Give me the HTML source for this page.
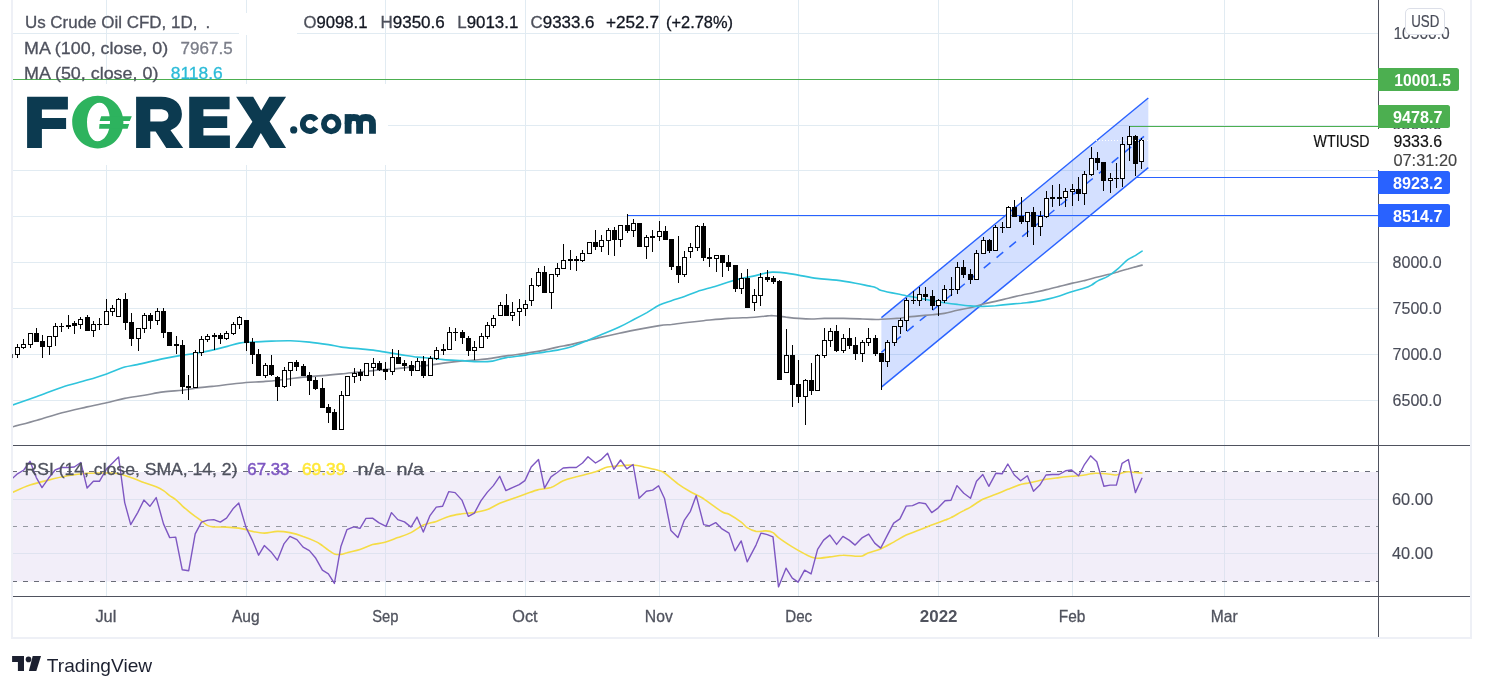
<!DOCTYPE html>
<html><head><meta charset="utf-8"><title>Us Crude Oil CFD</title>
<style>
html,body{margin:0;padding:0;background:#fff;}
body{width:1486px;height:691px;overflow:hidden;font-family:"Liberation Sans", sans-serif;}
svg{display:block;will-change:transform;opacity:0.9999;}
text{font-family:"Liberation Sans", sans-serif;}
</style></head><body>
<svg width="1486" height="691" viewBox="0 0 1486 691" font-family='"Liberation Sans", sans-serif'>
<defs>
<clipPath id="mainclip"><rect x="13" y="0" width="1365.5" height="445"/></clipPath>
<clipPath id="rsiclip"><rect x="13" y="446" width="1365.5" height="150"/></clipPath>
</defs>
<rect width="1486" height="691" fill="#fff"/>
<line x1="106.5" y1="0" x2="106.5" y2="596.5" stroke="#e1ebf2" stroke-width="1" />
<line x1="246.5" y1="0" x2="246.5" y2="596.5" stroke="#e1ebf2" stroke-width="1" />
<line x1="385.5" y1="0" x2="385.5" y2="596.5" stroke="#e1ebf2" stroke-width="1" />
<line x1="525.5" y1="0" x2="525.5" y2="596.5" stroke="#e1ebf2" stroke-width="1" />
<line x1="659.5" y1="0" x2="659.5" y2="596.5" stroke="#e1ebf2" stroke-width="1" />
<line x1="798.5" y1="0" x2="798.5" y2="596.5" stroke="#e1ebf2" stroke-width="1" />
<line x1="938.5" y1="0" x2="938.5" y2="596.5" stroke="#e1ebf2" stroke-width="1" />
<line x1="1072.5" y1="0" x2="1072.5" y2="596.5" stroke="#e1ebf2" stroke-width="1" />
<line x1="1224.5" y1="0" x2="1224.5" y2="596.5" stroke="#e1ebf2" stroke-width="1" />
<line x1="13" y1="33.5" x2="1378.5" y2="33.5" stroke="#e1ebf2" stroke-width="1" />
<line x1="13" y1="79.5" x2="1378.5" y2="79.5" stroke="#e1ebf2" stroke-width="1" />
<line x1="13" y1="125.5" x2="1378.5" y2="125.5" stroke="#e1ebf2" stroke-width="1" />
<line x1="13" y1="170.5" x2="1378.5" y2="170.5" stroke="#e1ebf2" stroke-width="1" />
<line x1="13" y1="216.5" x2="1378.5" y2="216.5" stroke="#e1ebf2" stroke-width="1" />
<line x1="13" y1="262.5" x2="1378.5" y2="262.5" stroke="#e1ebf2" stroke-width="1" />
<line x1="13" y1="308.5" x2="1378.5" y2="308.5" stroke="#e1ebf2" stroke-width="1" />
<line x1="13" y1="354.5" x2="1378.5" y2="354.5" stroke="#e1ebf2" stroke-width="1" />
<line x1="13" y1="400.5" x2="1378.5" y2="400.5" stroke="#e1ebf2" stroke-width="1" />
<rect x="13" y="84" width="375" height="81" fill="#fff" />
<rect x="239" y="13" width="58" height="22" fill="#fff" />
<polygon points="881.4,317.6 1148.3,98.0 1148.3,167.6 881.4,387.1" fill="#2962ff" fill-opacity="0.2"/>
<line x1="881.4" y1="317.6" x2="1148.3" y2="98.0" stroke="#2962ff" stroke-width="1.4" />
<line x1="881.4" y1="387.1" x2="1148.3" y2="167.6" stroke="#2962ff" stroke-width="1.4" />
<line x1="881.4" y1="352.35" x2="1148.3" y2="132.8" stroke="#2962ff" stroke-width="1.5" stroke-dasharray="8.6 7.97"/>
<line x1="13" y1="79.5" x2="1378.5" y2="79.5" stroke="#4caf50" stroke-width="1.2" />
<line x1="1129.5" y1="126.5" x2="1378.5" y2="126.5" stroke="#4caf50" stroke-width="1.2" />
<line x1="1136" y1="177.5" x2="1378.5" y2="177.5" stroke="#2962ff" stroke-width="1.2" />
<line x1="627.5" y1="215.5" x2="1378.5" y2="215.5" stroke="#2962ff" stroke-width="1.2" />
<g clip-path="url(#mainclip)">
<path d="M12.0,427.0 C16.2,425.8 28.7,422.6 37.0,420.2 C45.4,417.8 53.7,414.9 62.1,412.7 C70.4,410.5 79.7,408.6 87.1,406.9 C94.5,405.3 100.4,404.1 106.6,402.7 C112.9,401.3 118.4,399.7 124.7,398.4 C131.0,397.2 138.0,396.3 144.4,395.2 C150.9,394.1 157.1,392.7 163.5,391.9 C169.8,391.1 177.1,390.8 182.5,390.2 C187.8,389.5 190.5,388.8 195.5,388.2 C200.5,387.5 205.0,387.2 212.3,386.4 C219.6,385.6 230.5,384.0 239.3,383.2 C248.2,382.3 257.8,382.0 265.3,381.4 C272.9,380.8 278.1,380.1 284.4,379.4 C290.7,378.7 296.8,377.8 303.1,377.1 C309.5,376.5 316.0,376.2 322.4,375.6 C328.8,375.1 335.1,374.5 341.4,373.9 C347.8,373.3 355.2,372.4 360.5,371.9 C365.8,371.3 369.3,371.0 373.2,370.6 C377.2,370.3 379.7,370.0 384.0,369.6 C388.3,369.3 393.5,368.9 399.0,368.4 C404.6,367.8 412.1,366.9 417.3,366.4 C422.5,365.8 426.0,365.7 430.3,365.1 C434.7,364.6 438.0,363.8 443.3,363.1 C448.7,362.4 457.2,361.4 462.4,360.9 C467.5,360.4 470.2,360.5 474.4,360.1 C478.5,359.8 482.0,359.6 487.4,358.9 C492.7,358.2 500.1,356.8 506.4,355.9 C512.8,354.9 519.1,354.3 525.4,353.4 C531.8,352.4 539.1,351.2 544.5,350.1 C549.8,349.1 553.1,348.0 557.5,347.1 C561.8,346.2 566.0,345.6 570.5,344.6 C575.0,343.6 579.5,342.5 584.3,341.3 C589.1,340.2 593.4,338.9 599.3,337.6 C605.1,336.3 613.5,334.6 619.3,333.3 C625.2,332.1 627.7,331.4 634.3,330.1 C641.0,328.8 653.2,326.5 659.4,325.6 C665.6,324.6 667.3,324.9 671.5,324.5 C675.7,324.0 679.2,323.3 684.5,322.7 C689.8,322.1 696.2,321.4 703.5,320.7 C710.9,320.0 720.0,319.0 728.6,318.4 C737.1,317.9 748.1,317.6 754.6,317.2 C761.1,316.8 764.2,316.2 767.4,315.9 C770.5,315.7 770.4,315.5 773.6,315.7 C776.8,315.9 782.2,316.7 786.4,317.2 C790.5,317.7 794.2,318.2 798.4,318.4 C802.6,318.7 807.1,319.0 811.4,319.0 C815.8,319.0 819.1,318.5 824.4,318.4 C829.8,318.4 837.1,318.4 843.5,318.4 C849.8,318.5 857.1,318.8 862.5,319.0 C867.9,319.1 872.8,319.4 876.0,319.5 C879.2,319.5 877.3,319.5 881.4,319.3 C885.5,319.1 896.3,318.4 900.4,318.1 C904.6,317.7 903.1,317.5 906.3,317.2 C909.4,316.8 914.9,316.3 919.3,315.9 C923.6,315.5 928.1,315.1 932.3,314.7 C936.5,314.3 940.1,314.2 944.3,313.4 C948.5,312.7 953.0,311.1 957.3,310.2 C961.7,309.2 966.0,308.7 970.3,307.7 C974.7,306.6 979.2,305.0 983.4,303.9 C987.5,302.9 991.2,302.4 995.4,301.4 C999.6,300.5 1004.1,299.2 1008.4,298.2 C1012.7,297.1 1017.2,296.1 1021.4,295.2 C1025.6,294.2 1029.3,293.6 1033.4,292.7 C1037.6,291.7 1042.1,290.7 1046.4,289.6 C1050.8,288.6 1055.1,287.5 1059.5,286.4 C1063.8,285.3 1068.3,284.1 1072.5,283.1 C1076.7,282.2 1080.3,281.7 1084.5,280.6 C1088.7,279.6 1093.9,277.9 1097.8,276.9 C1101.6,275.9 1104.4,275.5 1107.8,274.6 C1111.1,273.8 1114.5,272.8 1117.8,271.9 C1121.1,270.9 1124.9,269.7 1127.8,268.9 C1130.7,268.0 1132.9,267.5 1135.3,266.9 C1137.7,266.2 1140.9,265.4 1142.1,265.1" fill="none" stroke="#8a8d98" stroke-width="1.6" stroke-linejoin="round" stroke-linecap="round" />
<path d="M12.0,405.2 C16.2,403.7 28.7,399.4 37.0,396.4 C45.4,393.4 53.7,389.9 62.1,387.2 C70.4,384.4 79.7,382.4 87.1,380.1 C94.5,377.9 100.4,376.1 106.6,373.9 C112.9,371.7 119.6,368.7 124.7,367.1 C129.7,365.6 130.9,366.0 137.2,364.6 C143.4,363.3 154.7,360.5 162.2,358.9 C169.8,357.3 176.9,356.0 182.5,355.1 C188.0,354.2 190.5,354.2 195.5,353.4 C200.5,352.5 207.0,351.3 212.3,350.1 C217.6,348.9 222.8,347.5 227.3,346.4 C231.8,345.2 235.1,343.8 239.3,343.1 C243.5,342.4 247.0,342.4 252.3,342.1 C257.7,341.8 265.0,341.3 271.3,341.1 C277.7,340.9 284.0,340.7 290.4,340.8 C296.7,341.0 303.1,341.5 309.4,342.1 C315.7,342.7 323.1,343.8 328.4,344.6 C333.8,345.4 336.1,346.4 341.4,347.1 C346.8,347.8 355.2,348.4 360.5,348.9 C365.8,349.4 369.3,349.6 373.2,350.1 C377.2,350.6 379.7,351.2 384.0,351.9 C388.3,352.6 393.5,353.5 399.0,354.4 C404.6,355.2 412.1,356.5 417.3,357.1 C422.5,357.7 426.0,357.7 430.3,358.1 C434.7,358.5 438.0,359.2 443.3,359.6 C448.7,360.0 457.2,360.3 462.4,360.6 C467.5,361.0 470.2,361.5 474.4,361.6 C478.5,361.8 484.2,361.7 487.4,361.6 C490.6,361.5 490.2,361.5 493.4,360.9 C496.6,360.2 501.1,358.6 506.4,357.6 C511.8,356.7 519.1,356.0 525.4,355.1 C531.8,354.2 539.1,352.9 544.5,352.1 C549.8,351.3 553.1,350.9 557.5,350.1 C561.8,349.3 566.0,348.5 570.5,347.1 C575.0,345.7 579.5,343.8 584.3,341.8 C589.1,339.9 593.4,338.0 599.3,335.6 C605.1,333.1 613.5,329.8 619.3,327.1 C625.2,324.4 629.7,321.7 634.3,319.3 C638.9,316.9 642.7,314.9 646.9,312.6 C651.0,310.2 655.3,307.0 659.4,305.0 C663.5,303.1 667.3,302.1 671.5,300.7 C675.7,299.2 680.2,298.0 684.5,296.4 C688.8,294.9 692.2,293.2 697.5,291.4 C702.9,289.7 711.4,287.5 716.5,285.9 C721.7,284.3 724.4,283.2 728.6,281.9 C732.7,280.6 737.2,279.4 741.6,278.4 C745.9,277.4 750.3,276.9 754.6,275.9 C758.9,274.9 764.2,273.3 767.4,272.6 C770.5,272.0 770.4,272.1 773.6,272.1 C776.8,272.2 782.2,272.6 786.4,273.1 C790.5,273.6 793.3,274.3 798.4,275.1 C803.5,276.0 810.6,277.6 816.9,278.4 C823.3,279.2 830.0,279.4 836.4,280.1 C842.9,280.9 850.1,282.2 855.5,283.2 C860.8,284.1 865.1,285.2 868.5,285.9 C871.9,286.7 873.8,286.9 876.0,287.7 C878.2,288.4 877.3,289.4 881.4,290.5 C885.5,291.7 896.3,293.7 900.4,294.5 C904.6,295.4 904.1,295.2 906.3,295.7 C908.4,296.1 911.3,296.6 913.5,297.0 C915.6,297.5 916.1,297.6 919.3,298.2 C922.4,298.8 928.1,299.9 932.3,300.7 C936.5,301.4 940.1,302.0 944.3,302.7 C948.5,303.3 953.0,303.9 957.3,304.4 C961.7,305.0 966.0,305.6 970.3,305.9 C974.7,306.3 979.2,306.5 983.4,306.4 C987.5,306.4 991.2,306.0 995.4,305.7 C999.6,305.3 1004.1,304.8 1008.4,304.4 C1012.7,304.0 1017.2,303.6 1021.4,303.2 C1025.6,302.7 1029.3,302.5 1033.4,301.9 C1037.6,301.3 1042.1,300.4 1046.4,299.4 C1050.8,298.4 1055.1,297.2 1059.5,295.9 C1063.8,294.6 1068.3,292.7 1072.5,291.4 C1076.7,290.1 1081.3,289.2 1084.5,288.1 C1087.7,287.1 1089.3,286.4 1091.5,285.1 C1093.7,283.9 1095.1,282.3 1097.8,280.9 C1100.5,279.4 1104.4,278.4 1107.8,276.4 C1111.1,274.4 1114.5,271.7 1117.8,268.9 C1121.1,266.1 1124.9,261.8 1127.8,259.6 C1130.7,257.4 1132.9,257.0 1135.3,255.6 C1137.7,254.2 1140.9,251.8 1142.1,251.1" fill="none" stroke="#2fc4dc" stroke-width="1.6" stroke-linejoin="round" stroke-linecap="round" />
<line x1="10.5" y1="350" x2="10.5" y2="358" stroke="#000" stroke-width="1" />
<rect x="8.0" y="353" width="5" height="5" fill="#000" />
<line x1="17.5" y1="344" x2="17.5" y2="358" stroke="#000" stroke-width="1" />
<rect x="15.5" y="347.5" width="4" height="7" fill="#fff" stroke="#000" stroke-width="1"/>
<line x1="23.5" y1="339" x2="23.5" y2="349" stroke="#000" stroke-width="1" />
<rect x="21.5" y="344.5" width="4" height="3" fill="#fff" stroke="#000" stroke-width="1"/>
<line x1="30.5" y1="333" x2="30.5" y2="348" stroke="#000" stroke-width="1" />
<rect x="28.5" y="333.5" width="4" height="11" fill="#fff" stroke="#000" stroke-width="1"/>
<line x1="36.5" y1="328" x2="36.5" y2="342" stroke="#000" stroke-width="1" />
<rect x="34.0" y="333" width="5" height="9" fill="#000" />
<line x1="42.5" y1="335" x2="42.5" y2="358" stroke="#000" stroke-width="1" />
<rect x="40.0" y="341" width="5" height="6" fill="#000" />
<line x1="49.5" y1="336" x2="49.5" y2="355" stroke="#000" stroke-width="1" />
<rect x="47.5" y="336.5" width="4" height="10" fill="#fff" stroke="#000" stroke-width="1"/>
<line x1="55.5" y1="323" x2="55.5" y2="346" stroke="#000" stroke-width="1" />
<rect x="53.5" y="326.5" width="4" height="10" fill="#fff" stroke="#000" stroke-width="1"/>
<line x1="61.5" y1="323" x2="61.5" y2="332" stroke="#000" stroke-width="1" />
<rect x="59.0" y="326" width="5" height="1" fill="#000" />
<line x1="68.5" y1="315" x2="68.5" y2="329" stroke="#000" stroke-width="1" />
<rect x="66.0" y="325" width="5" height="2" fill="#000" />
<line x1="74.5" y1="321" x2="74.5" y2="334" stroke="#000" stroke-width="1" />
<rect x="72.0" y="323" width="5" height="3" fill="#000" />
<line x1="80.5" y1="317" x2="80.5" y2="329" stroke="#000" stroke-width="1" />
<rect x="78.5" y="319.5" width="4" height="5" fill="#fff" stroke="#000" stroke-width="1"/>
<line x1="87.5" y1="315" x2="87.5" y2="331" stroke="#000" stroke-width="1" />
<rect x="85.0" y="317" width="5" height="14" fill="#000" />
<line x1="93.5" y1="321" x2="93.5" y2="337" stroke="#000" stroke-width="1" />
<rect x="91.5" y="324.5" width="4" height="6" fill="#fff" stroke="#000" stroke-width="1"/>
<line x1="99.5" y1="318" x2="99.5" y2="330" stroke="#000" stroke-width="1" />
<rect x="97.0" y="324" width="5" height="1" fill="#000" />
<line x1="106.5" y1="299" x2="106.5" y2="325" stroke="#000" stroke-width="1" />
<rect x="104.5" y="311.5" width="4" height="13" fill="#fff" stroke="#000" stroke-width="1"/>
<line x1="112.5" y1="305" x2="112.5" y2="316" stroke="#000" stroke-width="1" />
<rect x="110.5" y="308.5" width="4" height="3" fill="#fff" stroke="#000" stroke-width="1"/>
<line x1="118.5" y1="298" x2="118.5" y2="317" stroke="#000" stroke-width="1" />
<rect x="116.5" y="299.5" width="4" height="17" fill="#fff" stroke="#000" stroke-width="1"/>
<line x1="125.5" y1="293" x2="125.5" y2="330" stroke="#000" stroke-width="1" />
<rect x="123.0" y="299" width="5" height="24" fill="#000" />
<line x1="131.5" y1="313" x2="131.5" y2="346" stroke="#000" stroke-width="1" />
<rect x="129.0" y="322" width="5" height="17" fill="#000" />
<line x1="138.5" y1="328" x2="138.5" y2="351" stroke="#000" stroke-width="1" />
<rect x="136.5" y="328.5" width="4" height="10" fill="#fff" stroke="#000" stroke-width="1"/>
<line x1="144.5" y1="313" x2="144.5" y2="333" stroke="#000" stroke-width="1" />
<rect x="142.5" y="315.5" width="4" height="13" fill="#fff" stroke="#000" stroke-width="1"/>
<line x1="150.5" y1="313" x2="150.5" y2="329" stroke="#000" stroke-width="1" />
<rect x="148.0" y="315" width="5" height="6" fill="#000" />
<line x1="157.5" y1="308" x2="157.5" y2="325" stroke="#000" stroke-width="1" />
<rect x="155.5" y="311.5" width="4" height="9" fill="#fff" stroke="#000" stroke-width="1"/>
<line x1="163.5" y1="308" x2="163.5" y2="338" stroke="#000" stroke-width="1" />
<rect x="161.0" y="311" width="5" height="22" fill="#000" />
<line x1="169.5" y1="332" x2="169.5" y2="346" stroke="#000" stroke-width="1" />
<rect x="167.0" y="332" width="5" height="14" fill="#000" />
<line x1="176.5" y1="336" x2="176.5" y2="354" stroke="#000" stroke-width="1" />
<rect x="174.0" y="344" width="5" height="2" fill="#000" />
<line x1="182.5" y1="340" x2="182.5" y2="394" stroke="#000" stroke-width="1" />
<rect x="180.0" y="345" width="5" height="42" fill="#000" />
<line x1="188.5" y1="375" x2="188.5" y2="400" stroke="#000" stroke-width="1" />
<rect x="186.0" y="386" width="5" height="2" fill="#000" />
<line x1="195.5" y1="350" x2="195.5" y2="388" stroke="#000" stroke-width="1" />
<rect x="193.5" y="352.5" width="4" height="35" fill="#fff" stroke="#000" stroke-width="1"/>
<line x1="201.5" y1="336" x2="201.5" y2="356" stroke="#000" stroke-width="1" />
<rect x="199.5" y="339.5" width="4" height="13" fill="#fff" stroke="#000" stroke-width="1"/>
<line x1="207.5" y1="334" x2="207.5" y2="342" stroke="#000" stroke-width="1" />
<rect x="205.5" y="336.5" width="4" height="3" fill="#fff" stroke="#000" stroke-width="1"/>
<line x1="214.5" y1="333" x2="214.5" y2="350" stroke="#000" stroke-width="1" />
<rect x="212.0" y="335" width="5" height="2" fill="#000" />
<line x1="220.5" y1="333" x2="220.5" y2="344" stroke="#000" stroke-width="1" />
<rect x="218.0" y="335" width="5" height="4" fill="#000" />
<line x1="226.5" y1="331" x2="226.5" y2="340" stroke="#000" stroke-width="1" />
<rect x="224.5" y="333.5" width="4" height="5" fill="#fff" stroke="#000" stroke-width="1"/>
<line x1="233.5" y1="322" x2="233.5" y2="335" stroke="#000" stroke-width="1" />
<rect x="231.5" y="324.5" width="4" height="9" fill="#fff" stroke="#000" stroke-width="1"/>
<line x1="239.5" y1="316" x2="239.5" y2="329" stroke="#000" stroke-width="1" />
<rect x="237.5" y="317.5" width="4" height="7" fill="#fff" stroke="#000" stroke-width="1"/>
<line x1="246.5" y1="320" x2="246.5" y2="351" stroke="#000" stroke-width="1" />
<rect x="244.0" y="320" width="5" height="23" fill="#000" />
<line x1="252.5" y1="338" x2="252.5" y2="364" stroke="#000" stroke-width="1" />
<rect x="250.0" y="342" width="5" height="13" fill="#000" />
<line x1="258.5" y1="349" x2="258.5" y2="376" stroke="#000" stroke-width="1" />
<rect x="256.0" y="354" width="5" height="22" fill="#000" />
<line x1="265.5" y1="363" x2="265.5" y2="378" stroke="#000" stroke-width="1" />
<rect x="263.5" y="365.5" width="4" height="10" fill="#fff" stroke="#000" stroke-width="1"/>
<line x1="271.5" y1="355" x2="271.5" y2="376" stroke="#000" stroke-width="1" />
<rect x="269.0" y="365" width="5" height="10" fill="#000" />
<line x1="277.5" y1="376" x2="277.5" y2="401" stroke="#000" stroke-width="1" />
<rect x="275.0" y="377" width="5" height="10" fill="#000" />
<line x1="284.5" y1="367" x2="284.5" y2="388" stroke="#000" stroke-width="1" />
<rect x="282.5" y="370.5" width="4" height="16" fill="#fff" stroke="#000" stroke-width="1"/>
<line x1="290.5" y1="362" x2="290.5" y2="386" stroke="#000" stroke-width="1" />
<rect x="288.5" y="362.5" width="4" height="8" fill="#fff" stroke="#000" stroke-width="1"/>
<line x1="296.5" y1="360" x2="296.5" y2="371" stroke="#000" stroke-width="1" />
<rect x="294.0" y="362" width="5" height="5" fill="#000" />
<line x1="303.5" y1="364" x2="303.5" y2="376" stroke="#000" stroke-width="1" />
<rect x="301.0" y="366" width="5" height="10" fill="#000" />
<line x1="309.5" y1="372" x2="309.5" y2="395" stroke="#000" stroke-width="1" />
<rect x="307.0" y="375" width="5" height="6" fill="#000" />
<line x1="315.5" y1="377" x2="315.5" y2="390" stroke="#000" stroke-width="1" />
<rect x="313.0" y="380" width="5" height="9" fill="#000" />
<line x1="322.5" y1="378" x2="322.5" y2="408" stroke="#000" stroke-width="1" />
<rect x="320.0" y="388" width="5" height="20" fill="#000" />
<line x1="328.5" y1="404" x2="328.5" y2="423" stroke="#000" stroke-width="1" />
<rect x="326.0" y="407" width="5" height="6" fill="#000" />
<line x1="334.5" y1="409" x2="334.5" y2="430" stroke="#000" stroke-width="1" />
<rect x="332.0" y="412" width="5" height="18" fill="#000" />
<line x1="341.5" y1="391" x2="341.5" y2="430" stroke="#000" stroke-width="1" />
<rect x="339.5" y="395.5" width="4" height="34" fill="#fff" stroke="#000" stroke-width="1"/>
<line x1="347.5" y1="376" x2="347.5" y2="396" stroke="#000" stroke-width="1" />
<rect x="345.5" y="376.5" width="4" height="19" fill="#fff" stroke="#000" stroke-width="1"/>
<line x1="354.5" y1="368" x2="354.5" y2="383" stroke="#000" stroke-width="1" />
<rect x="352.5" y="373.5" width="4" height="3" fill="#fff" stroke="#000" stroke-width="1"/>
<line x1="360.5" y1="369" x2="360.5" y2="381" stroke="#000" stroke-width="1" />
<rect x="358.0" y="372" width="5" height="4" fill="#000" />
<line x1="366.5" y1="363" x2="366.5" y2="376" stroke="#000" stroke-width="1" />
<rect x="364.5" y="363.5" width="4" height="12" fill="#fff" stroke="#000" stroke-width="1"/>
<line x1="373.5" y1="358" x2="373.5" y2="376" stroke="#000" stroke-width="1" />
<rect x="371.5" y="363.5" width="4" height="4" fill="#fff" stroke="#000" stroke-width="1"/>
<line x1="379.5" y1="361" x2="379.5" y2="371" stroke="#000" stroke-width="1" />
<rect x="377.0" y="363" width="5" height="7" fill="#000" />
<line x1="385.5" y1="362" x2="385.5" y2="380" stroke="#000" stroke-width="1" />
<rect x="383.0" y="369" width="5" height="3" fill="#000" />
<line x1="392.5" y1="349" x2="392.5" y2="375" stroke="#000" stroke-width="1" />
<rect x="390.5" y="357.5" width="4" height="14" fill="#fff" stroke="#000" stroke-width="1"/>
<line x1="398.5" y1="350" x2="398.5" y2="364" stroke="#000" stroke-width="1" />
<rect x="396.0" y="357" width="5" height="7" fill="#000" />
<line x1="404.5" y1="360" x2="404.5" y2="371" stroke="#000" stroke-width="1" />
<rect x="402.0" y="363" width="5" height="3" fill="#000" />
<line x1="411.5" y1="361" x2="411.5" y2="376" stroke="#000" stroke-width="1" />
<rect x="409.0" y="365" width="5" height="6" fill="#000" />
<line x1="417.5" y1="358" x2="417.5" y2="371" stroke="#000" stroke-width="1" />
<rect x="415.5" y="361.5" width="4" height="9" fill="#fff" stroke="#000" stroke-width="1"/>
<line x1="423.5" y1="356" x2="423.5" y2="378" stroke="#000" stroke-width="1" />
<rect x="421.0" y="361" width="5" height="15" fill="#000" />
<line x1="430.5" y1="356" x2="430.5" y2="376" stroke="#000" stroke-width="1" />
<rect x="428.5" y="358.5" width="4" height="17" fill="#fff" stroke="#000" stroke-width="1"/>
<line x1="436.5" y1="347" x2="436.5" y2="360" stroke="#000" stroke-width="1" />
<rect x="434.5" y="350.5" width="4" height="8" fill="#fff" stroke="#000" stroke-width="1"/>
<line x1="443.5" y1="344" x2="443.5" y2="355" stroke="#000" stroke-width="1" />
<rect x="441.0" y="349" width="5" height="2" fill="#000" />
<line x1="449.5" y1="327" x2="449.5" y2="350" stroke="#000" stroke-width="1" />
<rect x="447.5" y="332.5" width="4" height="17" fill="#fff" stroke="#000" stroke-width="1"/>
<line x1="455.5" y1="328" x2="455.5" y2="341" stroke="#000" stroke-width="1" />
<rect x="453.0" y="332" width="5" height="1" fill="#000" />
<line x1="462.5" y1="330" x2="462.5" y2="344" stroke="#000" stroke-width="1" />
<rect x="460.0" y="332" width="5" height="6" fill="#000" />
<line x1="468.5" y1="336" x2="468.5" y2="356" stroke="#000" stroke-width="1" />
<rect x="466.0" y="338" width="5" height="13" fill="#000" />
<line x1="474.5" y1="341" x2="474.5" y2="360" stroke="#000" stroke-width="1" />
<rect x="472.5" y="347.5" width="4" height="3" fill="#fff" stroke="#000" stroke-width="1"/>
<line x1="481.5" y1="333" x2="481.5" y2="348" stroke="#000" stroke-width="1" />
<rect x="479.5" y="336.5" width="4" height="11" fill="#fff" stroke="#000" stroke-width="1"/>
<line x1="487.5" y1="322" x2="487.5" y2="339" stroke="#000" stroke-width="1" />
<rect x="485.5" y="325.5" width="4" height="11" fill="#fff" stroke="#000" stroke-width="1"/>
<line x1="493.5" y1="315" x2="493.5" y2="328" stroke="#000" stroke-width="1" />
<rect x="491.5" y="318.5" width="4" height="7" fill="#fff" stroke="#000" stroke-width="1"/>
<line x1="500.5" y1="302" x2="500.5" y2="316" stroke="#000" stroke-width="1" />
<rect x="498.5" y="305.5" width="4" height="10" fill="#fff" stroke="#000" stroke-width="1"/>
<line x1="506.5" y1="294" x2="506.5" y2="316" stroke="#000" stroke-width="1" />
<rect x="504.0" y="305" width="5" height="11" fill="#000" />
<line x1="512.5" y1="302" x2="512.5" y2="321" stroke="#000" stroke-width="1" />
<rect x="510.5" y="312.5" width="4" height="3" fill="#fff" stroke="#000" stroke-width="1"/>
<line x1="519.5" y1="299" x2="519.5" y2="326" stroke="#000" stroke-width="1" />
<rect x="517.5" y="308.5" width="4" height="3" fill="#fff" stroke="#000" stroke-width="1"/>
<line x1="525.5" y1="300" x2="525.5" y2="316" stroke="#000" stroke-width="1" />
<rect x="523.5" y="304.5" width="4" height="4" fill="#fff" stroke="#000" stroke-width="1"/>
<line x1="531.5" y1="278" x2="531.5" y2="306" stroke="#000" stroke-width="1" />
<rect x="529.5" y="285.5" width="4" height="15" fill="#fff" stroke="#000" stroke-width="1"/>
<line x1="538.5" y1="268" x2="538.5" y2="287" stroke="#000" stroke-width="1" />
<rect x="536.5" y="272.5" width="4" height="13" fill="#fff" stroke="#000" stroke-width="1"/>
<line x1="544.5" y1="266" x2="544.5" y2="293" stroke="#000" stroke-width="1" />
<rect x="542.0" y="272" width="5" height="21" fill="#000" />
<line x1="551.5" y1="274" x2="551.5" y2="309" stroke="#000" stroke-width="1" />
<rect x="549.5" y="274.5" width="4" height="18" fill="#fff" stroke="#000" stroke-width="1"/>
<line x1="557.5" y1="263" x2="557.5" y2="277" stroke="#000" stroke-width="1" />
<rect x="555.5" y="268.5" width="4" height="6" fill="#fff" stroke="#000" stroke-width="1"/>
<line x1="563.5" y1="244" x2="563.5" y2="269" stroke="#000" stroke-width="1" />
<rect x="561.5" y="260.5" width="4" height="8" fill="#fff" stroke="#000" stroke-width="1"/>
<line x1="570.5" y1="250" x2="570.5" y2="270" stroke="#000" stroke-width="1" />
<rect x="568.0" y="259" width="5" height="2" fill="#000" />
<line x1="576.5" y1="256" x2="576.5" y2="271" stroke="#000" stroke-width="1" />
<rect x="574.0" y="259" width="5" height="2" fill="#000" />
<line x1="582.5" y1="250" x2="582.5" y2="262" stroke="#000" stroke-width="1" />
<rect x="580.5" y="253.5" width="4" height="7" fill="#fff" stroke="#000" stroke-width="1"/>
<line x1="589.5" y1="242" x2="589.5" y2="254" stroke="#000" stroke-width="1" />
<rect x="587.5" y="242.5" width="4" height="11" fill="#fff" stroke="#000" stroke-width="1"/>
<line x1="595.5" y1="230" x2="595.5" y2="250" stroke="#000" stroke-width="1" />
<rect x="593.0" y="242" width="5" height="5" fill="#000" />
<line x1="601.5" y1="235" x2="601.5" y2="252" stroke="#000" stroke-width="1" />
<rect x="599.5" y="240.5" width="4" height="6" fill="#fff" stroke="#000" stroke-width="1"/>
<line x1="608.5" y1="228" x2="608.5" y2="255" stroke="#000" stroke-width="1" />
<rect x="606.5" y="230.5" width="4" height="10" fill="#fff" stroke="#000" stroke-width="1"/>
<line x1="614.5" y1="227" x2="614.5" y2="256" stroke="#000" stroke-width="1" />
<rect x="612.0" y="230" width="5" height="10" fill="#000" />
<line x1="620.5" y1="225" x2="620.5" y2="247" stroke="#000" stroke-width="1" />
<rect x="618.5" y="225.5" width="4" height="14" fill="#fff" stroke="#000" stroke-width="1"/>
<line x1="627.5" y1="214" x2="627.5" y2="233" stroke="#000" stroke-width="1" />
<rect x="625.0" y="225" width="5" height="6" fill="#000" />
<line x1="633.5" y1="219" x2="633.5" y2="237" stroke="#000" stroke-width="1" />
<rect x="631.5" y="223.5" width="4" height="7" fill="#fff" stroke="#000" stroke-width="1"/>
<line x1="639.5" y1="223" x2="639.5" y2="247" stroke="#000" stroke-width="1" />
<rect x="637.0" y="223" width="5" height="24" fill="#000" />
<line x1="646.5" y1="235" x2="646.5" y2="259" stroke="#000" stroke-width="1" />
<rect x="644.5" y="237.5" width="4" height="9" fill="#fff" stroke="#000" stroke-width="1"/>
<line x1="652.5" y1="230" x2="652.5" y2="252" stroke="#000" stroke-width="1" />
<rect x="650.0" y="236" width="5" height="2" fill="#000" />
<line x1="659.5" y1="221" x2="659.5" y2="241" stroke="#000" stroke-width="1" />
<rect x="657.5" y="231.5" width="4" height="5" fill="#fff" stroke="#000" stroke-width="1"/>
<line x1="665.5" y1="226" x2="665.5" y2="240" stroke="#000" stroke-width="1" />
<rect x="663.0" y="231" width="5" height="9" fill="#000" />
<line x1="671.5" y1="239" x2="671.5" y2="270" stroke="#000" stroke-width="1" />
<rect x="669.0" y="239" width="5" height="28" fill="#000" />
<line x1="678.5" y1="236" x2="678.5" y2="283" stroke="#000" stroke-width="1" />
<rect x="676.0" y="266" width="5" height="9" fill="#000" />
<line x1="684.5" y1="251" x2="684.5" y2="277" stroke="#000" stroke-width="1" />
<rect x="682.5" y="257.5" width="4" height="17" fill="#fff" stroke="#000" stroke-width="1"/>
<line x1="690.5" y1="243" x2="690.5" y2="258" stroke="#000" stroke-width="1" />
<rect x="688.5" y="247.5" width="4" height="4" fill="#fff" stroke="#000" stroke-width="1"/>
<line x1="697.5" y1="225" x2="697.5" y2="251" stroke="#000" stroke-width="1" />
<rect x="695.5" y="226.5" width="4" height="21" fill="#fff" stroke="#000" stroke-width="1"/>
<line x1="703.5" y1="223" x2="703.5" y2="261" stroke="#000" stroke-width="1" />
<rect x="701.0" y="226" width="5" height="32" fill="#000" />
<line x1="709.5" y1="248" x2="709.5" y2="267" stroke="#000" stroke-width="1" />
<rect x="707.0" y="257" width="5" height="2" fill="#000" />
<line x1="716.5" y1="255" x2="716.5" y2="272" stroke="#000" stroke-width="1" />
<rect x="714.5" y="255.5" width="4" height="3" fill="#fff" stroke="#000" stroke-width="1"/>
<line x1="722.5" y1="255" x2="722.5" y2="277" stroke="#000" stroke-width="1" />
<rect x="720.0" y="255" width="5" height="8" fill="#000" />
<line x1="728.5" y1="255" x2="728.5" y2="271" stroke="#000" stroke-width="1" />
<rect x="726.0" y="262" width="5" height="5" fill="#000" />
<line x1="735.5" y1="265" x2="735.5" y2="292" stroke="#000" stroke-width="1" />
<rect x="733.0" y="265" width="5" height="24" fill="#000" />
<line x1="741.5" y1="273" x2="741.5" y2="294" stroke="#000" stroke-width="1" />
<rect x="739.5" y="278.5" width="4" height="10" fill="#fff" stroke="#000" stroke-width="1"/>
<line x1="747.5" y1="269" x2="747.5" y2="308" stroke="#000" stroke-width="1" />
<rect x="745.0" y="278" width="5" height="30" fill="#000" />
<line x1="754.5" y1="289" x2="754.5" y2="311" stroke="#000" stroke-width="1" />
<rect x="752.5" y="295.5" width="4" height="7" fill="#fff" stroke="#000" stroke-width="1"/>
<line x1="760.5" y1="273" x2="760.5" y2="306" stroke="#000" stroke-width="1" />
<rect x="758.5" y="277.5" width="4" height="18" fill="#fff" stroke="#000" stroke-width="1"/>
<line x1="767.5" y1="270" x2="767.5" y2="282" stroke="#000" stroke-width="1" />
<rect x="765.0" y="277" width="5" height="3" fill="#000" />
<line x1="773.5" y1="276" x2="773.5" y2="284" stroke="#000" stroke-width="1" />
<rect x="771.0" y="278" width="5" height="4" fill="#000" />
<line x1="779.5" y1="280" x2="779.5" y2="380" stroke="#000" stroke-width="1" />
<rect x="777.0" y="281" width="5" height="99" fill="#000" />
<line x1="786.5" y1="329" x2="786.5" y2="373" stroke="#000" stroke-width="1" />
<rect x="784.5" y="355.5" width="4" height="17" fill="#fff" stroke="#000" stroke-width="1"/>
<line x1="792.5" y1="345" x2="792.5" y2="407" stroke="#000" stroke-width="1" />
<rect x="790.0" y="355" width="5" height="30" fill="#000" />
<line x1="798.5" y1="360" x2="798.5" y2="403" stroke="#000" stroke-width="1" />
<rect x="796.0" y="384" width="5" height="13" fill="#000" />
<line x1="805.5" y1="379" x2="805.5" y2="425" stroke="#000" stroke-width="1" />
<rect x="803.5" y="380.5" width="4" height="16" fill="#fff" stroke="#000" stroke-width="1"/>
<line x1="811.5" y1="363" x2="811.5" y2="395" stroke="#000" stroke-width="1" />
<rect x="809.0" y="380" width="5" height="11" fill="#000" />
<line x1="817.5" y1="354" x2="817.5" y2="391" stroke="#000" stroke-width="1" />
<rect x="815.5" y="355.5" width="4" height="35" fill="#fff" stroke="#000" stroke-width="1"/>
<line x1="824.5" y1="328" x2="824.5" y2="358" stroke="#000" stroke-width="1" />
<rect x="822.5" y="340.5" width="4" height="15" fill="#fff" stroke="#000" stroke-width="1"/>
<line x1="830.5" y1="328" x2="830.5" y2="347" stroke="#000" stroke-width="1" />
<rect x="828.5" y="331.5" width="4" height="9" fill="#fff" stroke="#000" stroke-width="1"/>
<line x1="836.5" y1="325" x2="836.5" y2="352" stroke="#000" stroke-width="1" />
<rect x="834.0" y="331" width="5" height="20" fill="#000" />
<line x1="843.5" y1="334" x2="843.5" y2="353" stroke="#000" stroke-width="1" />
<rect x="841.5" y="338.5" width="4" height="12" fill="#fff" stroke="#000" stroke-width="1"/>
<line x1="849.5" y1="328" x2="849.5" y2="349" stroke="#000" stroke-width="1" />
<rect x="847.0" y="338" width="5" height="8" fill="#000" />
<line x1="855.5" y1="337" x2="855.5" y2="360" stroke="#000" stroke-width="1" />
<rect x="853.0" y="345" width="5" height="9" fill="#000" />
<line x1="862.5" y1="340" x2="862.5" y2="362" stroke="#000" stroke-width="1" />
<rect x="860.5" y="342.5" width="4" height="11" fill="#fff" stroke="#000" stroke-width="1"/>
<line x1="868.5" y1="328" x2="868.5" y2="346" stroke="#000" stroke-width="1" />
<rect x="866.5" y="338.5" width="4" height="4" fill="#fff" stroke="#000" stroke-width="1"/>
<line x1="875.5" y1="335" x2="875.5" y2="356" stroke="#000" stroke-width="1" />
<rect x="873.0" y="338" width="5" height="16" fill="#000" />
<line x1="881.5" y1="353" x2="881.5" y2="390" stroke="#000" stroke-width="1" />
<rect x="879.0" y="353" width="5" height="9" fill="#000" />
<line x1="887.5" y1="340" x2="887.5" y2="367" stroke="#000" stroke-width="1" />
<rect x="885.5" y="342.5" width="4" height="19" fill="#fff" stroke="#000" stroke-width="1"/>
<line x1="894.5" y1="326" x2="894.5" y2="346" stroke="#000" stroke-width="1" />
<rect x="892.5" y="326.5" width="4" height="16" fill="#fff" stroke="#000" stroke-width="1"/>
<line x1="900.5" y1="318" x2="900.5" y2="334" stroke="#000" stroke-width="1" />
<rect x="898.5" y="320.5" width="4" height="6" fill="#fff" stroke="#000" stroke-width="1"/>
<line x1="906.5" y1="298" x2="906.5" y2="331" stroke="#000" stroke-width="1" />
<rect x="904.5" y="300.5" width="4" height="20" fill="#fff" stroke="#000" stroke-width="1"/>
<line x1="913.5" y1="291" x2="913.5" y2="304" stroke="#000" stroke-width="1" />
<rect x="911.0" y="300" width="5" height="1" fill="#000" />
<line x1="919.5" y1="287" x2="919.5" y2="306" stroke="#000" stroke-width="1" />
<rect x="917.5" y="294.5" width="4" height="6" fill="#fff" stroke="#000" stroke-width="1"/>
<line x1="925.5" y1="287" x2="925.5" y2="301" stroke="#000" stroke-width="1" />
<rect x="923.0" y="294" width="5" height="3" fill="#000" />
<line x1="932.5" y1="290" x2="932.5" y2="310" stroke="#000" stroke-width="1" />
<rect x="930.0" y="296" width="5" height="10" fill="#000" />
<line x1="938.5" y1="299" x2="938.5" y2="316" stroke="#000" stroke-width="1" />
<rect x="936.5" y="300.5" width="4" height="5" fill="#fff" stroke="#000" stroke-width="1"/>
<line x1="944.5" y1="285" x2="944.5" y2="303" stroke="#000" stroke-width="1" />
<rect x="942.5" y="289.5" width="4" height="11" fill="#fff" stroke="#000" stroke-width="1"/>
<line x1="951.5" y1="277" x2="951.5" y2="296" stroke="#000" stroke-width="1" />
<rect x="949.0" y="289" width="5" height="1" fill="#000" />
<line x1="957.5" y1="262" x2="957.5" y2="294" stroke="#000" stroke-width="1" />
<rect x="955.5" y="267.5" width="4" height="22" fill="#fff" stroke="#000" stroke-width="1"/>
<line x1="963.5" y1="260" x2="963.5" y2="278" stroke="#000" stroke-width="1" />
<rect x="961.0" y="267" width="5" height="8" fill="#000" />
<line x1="970.5" y1="269" x2="970.5" y2="284" stroke="#000" stroke-width="1" />
<rect x="968.0" y="274" width="5" height="6" fill="#000" />
<line x1="976.5" y1="250" x2="976.5" y2="280" stroke="#000" stroke-width="1" />
<rect x="974.5" y="253.5" width="4" height="26" fill="#fff" stroke="#000" stroke-width="1"/>
<line x1="983.5" y1="237" x2="983.5" y2="254" stroke="#000" stroke-width="1" />
<rect x="981.5" y="240.5" width="4" height="13" fill="#fff" stroke="#000" stroke-width="1"/>
<line x1="989.5" y1="239" x2="989.5" y2="253" stroke="#000" stroke-width="1" />
<rect x="987.0" y="240" width="5" height="11" fill="#000" />
<line x1="995.5" y1="225" x2="995.5" y2="251" stroke="#000" stroke-width="1" />
<rect x="993.5" y="227.5" width="4" height="23" fill="#fff" stroke="#000" stroke-width="1"/>
<line x1="1002.5" y1="222" x2="1002.5" y2="233" stroke="#000" stroke-width="1" />
<rect x="1000.0" y="227" width="5" height="1" fill="#000" />
<line x1="1008.5" y1="206" x2="1008.5" y2="228" stroke="#000" stroke-width="1" />
<rect x="1006.5" y="207.5" width="4" height="20" fill="#fff" stroke="#000" stroke-width="1"/>
<line x1="1014.5" y1="200" x2="1014.5" y2="217" stroke="#000" stroke-width="1" />
<rect x="1012.0" y="207" width="5" height="10" fill="#000" />
<line x1="1021.5" y1="197" x2="1021.5" y2="224" stroke="#000" stroke-width="1" />
<rect x="1019.0" y="216" width="5" height="6" fill="#000" />
<line x1="1027.5" y1="212" x2="1027.5" y2="237" stroke="#000" stroke-width="1" />
<rect x="1025.5" y="212.5" width="4" height="9" fill="#fff" stroke="#000" stroke-width="1"/>
<line x1="1033.5" y1="207" x2="1033.5" y2="245" stroke="#000" stroke-width="1" />
<rect x="1031.0" y="212" width="5" height="15" fill="#000" />
<line x1="1040.5" y1="211" x2="1040.5" y2="236" stroke="#000" stroke-width="1" />
<rect x="1038.5" y="216.5" width="4" height="10" fill="#fff" stroke="#000" stroke-width="1"/>
<line x1="1046.5" y1="191" x2="1046.5" y2="218" stroke="#000" stroke-width="1" />
<rect x="1044.5" y="198.5" width="4" height="18" fill="#fff" stroke="#000" stroke-width="1"/>
<line x1="1052.5" y1="185" x2="1052.5" y2="207" stroke="#000" stroke-width="1" />
<rect x="1050.0" y="197" width="5" height="2" fill="#000" />
<line x1="1059.5" y1="184" x2="1059.5" y2="206" stroke="#000" stroke-width="1" />
<rect x="1057.0" y="197" width="5" height="2" fill="#000" />
<line x1="1065.5" y1="188" x2="1065.5" y2="207" stroke="#000" stroke-width="1" />
<rect x="1063.5" y="191.5" width="4" height="6" fill="#fff" stroke="#000" stroke-width="1"/>
<line x1="1072.5" y1="184" x2="1072.5" y2="206" stroke="#000" stroke-width="1" />
<rect x="1070.5" y="189.5" width="4" height="2" fill="#fff" stroke="#000" stroke-width="1"/>
<line x1="1078.5" y1="177" x2="1078.5" y2="201" stroke="#000" stroke-width="1" />
<rect x="1076.0" y="189" width="5" height="5" fill="#000" />
<line x1="1084.5" y1="171" x2="1084.5" y2="205" stroke="#000" stroke-width="1" />
<rect x="1082.5" y="174.5" width="4" height="19" fill="#fff" stroke="#000" stroke-width="1"/>
<line x1="1091.5" y1="147" x2="1091.5" y2="176" stroke="#000" stroke-width="1" />
<rect x="1089.5" y="158.5" width="4" height="16" fill="#fff" stroke="#000" stroke-width="1"/>
<line x1="1097.5" y1="152" x2="1097.5" y2="170" stroke="#000" stroke-width="1" />
<rect x="1095.0" y="158" width="5" height="5" fill="#000" />
<line x1="1103.5" y1="162" x2="1103.5" y2="191" stroke="#000" stroke-width="1" />
<rect x="1101.0" y="162" width="5" height="19" fill="#000" />
<line x1="1110.5" y1="173" x2="1110.5" y2="193" stroke="#000" stroke-width="1" />
<rect x="1108.5" y="178.5" width="4" height="2" fill="#fff" stroke="#000" stroke-width="1"/>
<line x1="1116.5" y1="163" x2="1116.5" y2="188" stroke="#000" stroke-width="1" />
<rect x="1114.0" y="178" width="5" height="1" fill="#000" />
<line x1="1122.5" y1="137" x2="1122.5" y2="187" stroke="#000" stroke-width="1" />
<rect x="1120.5" y="144.5" width="4" height="34" fill="#fff" stroke="#000" stroke-width="1"/>
<line x1="1129.5" y1="126" x2="1129.5" y2="161" stroke="#000" stroke-width="1" />
<rect x="1127.5" y="136.5" width="4" height="8" fill="#fff" stroke="#000" stroke-width="1"/>
<line x1="1135.5" y1="135" x2="1135.5" y2="176" stroke="#000" stroke-width="1" />
<rect x="1133.0" y="136" width="5" height="28" fill="#000" />
<line x1="1141.5" y1="138" x2="1141.5" y2="169" stroke="#000" stroke-width="1" />
<rect x="1139.5" y="140.5" width="4" height="21" fill="#fff" stroke="#000" stroke-width="1"/>
</g>
<line x1="1096" y1="140.5" x2="1378.5" y2="140.5" stroke="#fff" stroke-width="1" stroke-dasharray="1 2"/>
<rect x="13" y="472" width="1365.5" height="109.5" fill="#7e57c2" fill-opacity="0.1"/>
<line x1="13" y1="499.5" x2="1378.5" y2="499.5" stroke="#dfe3f0" stroke-width="1" />
<line x1="13" y1="553.5" x2="1378.5" y2="553.5" stroke="#dfe3f0" stroke-width="1" />
<line x1="106.5" y1="471.5" x2="106.5" y2="581.5" stroke="#dfe3f0" stroke-width="1" />
<line x1="246.5" y1="471.5" x2="246.5" y2="581.5" stroke="#dfe3f0" stroke-width="1" />
<line x1="385.5" y1="471.5" x2="385.5" y2="581.5" stroke="#dfe3f0" stroke-width="1" />
<line x1="525.5" y1="471.5" x2="525.5" y2="581.5" stroke="#dfe3f0" stroke-width="1" />
<line x1="659.5" y1="471.5" x2="659.5" y2="581.5" stroke="#dfe3f0" stroke-width="1" />
<line x1="798.5" y1="471.5" x2="798.5" y2="581.5" stroke="#dfe3f0" stroke-width="1" />
<line x1="938.5" y1="471.5" x2="938.5" y2="581.5" stroke="#dfe3f0" stroke-width="1" />
<line x1="1072.5" y1="471.5" x2="1072.5" y2="581.5" stroke="#dfe3f0" stroke-width="1" />
<line x1="1224.5" y1="471.5" x2="1224.5" y2="581.5" stroke="#dfe3f0" stroke-width="1" />
<line x1="12" y1="471.5" x2="1378.5" y2="471.5" stroke="#6a6d78" stroke-width="1" stroke-dasharray="5 6"/>
<line x1="12" y1="526.5" x2="1378.5" y2="526.5" stroke="#9598a1" stroke-width="1" stroke-dasharray="5 6"/>
<line x1="12" y1="581.5" x2="1378.5" y2="581.5" stroke="#6a6d78" stroke-width="1" stroke-dasharray="5 6"/>
<g clip-path="url(#rsiclip)">
<path d="M12.0,492.6 C15.0,491.3 23.9,487.1 30.0,485.1 C36.1,483.0 42.3,481.6 48.5,480.1 C54.8,478.5 61.1,476.9 67.6,475.8 C74.0,474.7 80.6,473.8 87.1,473.3 C93.6,472.8 101.4,473.0 106.6,473.0 C111.9,473.1 114.6,473.0 118.6,473.8 C122.6,474.5 126.4,476.1 130.7,477.6 C134.9,479.0 139.7,481.0 143.9,482.6 C148.2,484.1 152.9,485.5 156.2,486.8 C159.4,488.1 161.2,489.1 163.5,490.6 C165.7,492.0 167.7,494.1 169.7,495.6 C171.8,497.1 173.6,497.9 175.7,499.6 C177.8,501.3 180.1,503.9 182.2,505.8 C184.4,507.8 186.6,509.6 188.7,511.3 C190.9,513.1 193.1,514.8 195.2,516.4 C197.4,517.9 199.4,519.3 201.5,520.9 C203.6,522.4 205.7,524.6 207.8,525.6 C209.8,526.6 210.6,526.6 213.8,526.9 C216.9,527.1 222.4,526.9 226.5,527.1 C230.7,527.3 235.6,527.7 238.8,528.1 C242.1,528.5 243.8,529.1 246.1,529.6 C248.3,530.2 249.3,530.8 252.3,531.4 C255.4,532.0 260.2,533.1 264.3,533.1 C268.5,533.1 273.1,531.5 277.4,531.4 C281.6,531.3 285.6,531.8 289.9,532.6 C294.2,533.5 298.9,534.9 303.1,536.4 C307.4,537.8 312.2,539.8 315.4,541.4 C318.6,542.9 320.2,544.2 322.4,545.6 C324.6,547.1 326.4,548.8 328.4,550.1 C330.4,551.5 332.3,553.2 334.4,553.9 C336.5,554.6 338.9,554.6 340.9,554.4 C343.0,554.2 343.8,553.5 347.0,552.7 C350.1,551.8 355.7,550.7 360.0,549.4 C364.2,548.1 368.5,545.8 372.5,544.6 C376.5,543.5 379.8,543.8 384.0,542.6 C388.2,541.5 393.3,539.3 397.8,537.6 C402.3,536.0 406.8,534.7 411.0,532.6 C415.3,530.5 419.1,527.0 423.3,525.1 C427.5,523.2 432.1,522.8 436.3,521.4 C440.6,519.9 444.6,517.6 448.8,516.4 C453.1,515.1 457.6,514.5 461.9,513.8 C466.1,513.2 470.1,513.3 474.4,512.6 C478.6,511.9 483.2,511.1 487.4,509.6 C491.6,508.0 495.5,505.1 499.7,503.3 C503.8,501.5 508.2,500.3 512.4,498.8 C516.6,497.3 520.6,495.9 524.9,494.3 C529.3,492.8 534.1,490.7 538.5,489.6 C542.8,488.4 546.8,489.0 551.0,487.6 C555.1,486.1 559.0,482.6 563.2,480.8 C567.5,479.0 570.9,478.3 576.3,476.8 C581.6,475.3 590.3,473.4 595.5,471.8 C600.7,470.2 603.4,468.0 607.6,467.0 C611.7,466.0 616.3,466.1 620.6,465.8 C624.8,465.5 628.8,464.7 633.1,465.0 C637.4,465.3 642.1,466.6 646.4,467.5 C650.6,468.5 655.6,469.6 658.6,470.5 C661.7,471.5 661.4,470.8 664.6,473.0 C667.8,475.3 673.6,480.7 677.9,483.8 C682.2,486.9 686.1,489.3 690.4,491.8 C694.7,494.3 698.4,495.5 703.7,498.8 C708.9,502.2 717.7,509.3 722.0,511.8 C726.2,514.4 725.8,512.6 729.0,514.3 C732.2,516.1 738.2,519.9 741.2,522.1 C744.3,524.3 744.8,526.1 747.2,527.6 C749.7,529.2 752.9,530.8 756.0,531.4 C759.1,531.9 763.2,530.7 766.0,530.9 C768.9,531.1 770.9,531.5 773.0,532.6 C775.1,533.8 775.3,535.3 778.5,537.6 C781.7,540.0 788.0,544.2 792.3,546.9 C796.6,549.6 801.4,552.2 804.6,553.9 C807.7,555.6 808.9,556.2 811.1,556.9 C813.2,557.6 814.5,558.2 817.6,558.2 C820.7,558.2 825.6,557.4 829.8,556.9 C834.1,556.4 838.7,555.3 842.9,555.2 C847.1,555.0 851.9,556.0 855.1,556.2 C858.4,556.3 860.1,556.5 862.4,555.9 C864.6,555.3 865.6,553.8 868.7,552.7 C871.7,551.5 876.5,550.6 880.7,548.9 C884.8,547.1 889.4,544.4 893.7,542.1 C897.9,539.8 901.9,537.1 906.2,535.1 C910.5,533.1 915.0,531.8 919.2,530.1 C923.5,528.5 927.4,526.8 931.7,525.1 C936.0,523.4 941.8,521.4 945.0,520.1 C948.2,518.9 947.9,519.2 951.0,517.6 C954.1,516.0 960.5,512.3 963.8,510.6 C967.0,508.8 967.4,509.0 970.5,507.1 C973.7,505.2 978.6,501.5 982.8,499.3 C987.0,497.2 991.7,496.0 995.8,494.3 C1000.0,492.7 1003.7,490.9 1007.8,489.3 C1012.0,487.7 1017.2,485.6 1020.6,484.6 C1024.0,483.5 1023.8,483.9 1028.0,483.1 C1032.2,482.2 1040.9,480.2 1046.0,479.3 C1051.2,478.4 1054.8,478.1 1059.0,477.6 C1063.3,477.0 1067.3,476.7 1071.6,476.3 C1075.8,475.9 1081.4,475.5 1084.6,475.0 C1087.7,474.6 1088.5,474.1 1090.6,473.8 C1092.6,473.5 1093.6,473.2 1096.8,473.3 C1100.1,473.4 1106.9,474.0 1110.1,474.3 C1113.4,474.6 1114.4,475.3 1116.4,475.0 C1118.4,474.8 1120.1,473.6 1122.1,473.0 C1124.1,472.5 1126.2,471.9 1128.4,471.8 C1130.6,471.7 1133.1,472.3 1135.4,472.5 C1137.6,472.8 1140.8,473.0 1141.9,473.0" fill="none" stroke="#f5dc45" stroke-width="1.6" stroke-linejoin="round" stroke-linecap="round" />
<polyline points="12.0,478.8 17.5,473.8 23.8,470.0 30.0,461.3 36.3,477.6 42.0,487.6 48.5,478.3 55.1,470.0 61.3,467.5 67.6,467.5 74.3,467.0 80.8,462.5 87.1,488.1 93.4,481.3 99.4,481.3 106.6,468.8 112.6,463.0 118.6,457.0 124.7,502.6 130.7,524.6 137.7,512.6 143.9,500.1 149.9,506.3 156.2,497.6 163.5,523.9 169.7,537.6 175.7,537.1 182.2,569.7 188.7,570.7 195.2,533.9 201.5,522.1 207.8,520.1 213.8,519.6 220.3,522.1 226.5,518.1 233.0,508.8 238.8,503.1 246.1,527.6 252.3,540.1 258.6,555.2 264.3,545.6 271.1,551.9 277.4,560.2 283.9,543.9 289.9,536.4 296.9,539.6 303.1,547.1 309.4,550.6 315.4,557.7 322.4,570.2 328.4,573.9 334.4,583.4 340.9,546.4 347.0,529.6 353.7,526.9 360.0,528.4 366.0,518.4 372.5,518.1 378.7,522.6 386.0,526.4 391.5,512.6 397.8,519.6 404.5,521.9 411.0,527.1 417.0,517.1 423.3,532.1 429.8,515.9 436.3,507.1 442.6,506.3 448.8,491.6 455.1,492.6 461.9,500.1 468.4,516.4 474.4,513.1 480.9,500.8 487.4,492.1 493.4,485.6 499.7,476.3 505.9,490.6 512.4,487.6 519.2,484.6 524.9,480.6 531.2,467.0 538.5,459.5 544.5,488.1 551.0,476.8 557.2,472.5 563.2,468.0 569.7,467.5 576.3,467.5 582.5,463.0 588.0,456.8 595.5,463.0 601.5,459.3 607.6,453.3 613.8,469.3 620.6,460.0 626.8,468.8 633.1,464.5 639.1,498.3 646.4,491.3 652.6,490.1 658.6,485.8 664.6,498.8 670.9,530.6 677.9,537.6 684.4,520.1 690.4,511.3 696.2,495.6 703.7,524.6 709.4,525.9 715.7,522.6 722.0,528.9 729.0,533.1 735.0,550.9 741.2,540.9 747.2,561.9 756.0,545.1 761.0,533.1 767.3,534.6 773.0,536.9 778.5,586.9 786.0,568.2 792.3,578.2 798.1,582.2 804.6,570.2 811.1,573.9 817.6,549.4 823.6,540.1 829.8,535.1 836.6,544.4 842.9,536.4 849.1,540.1 855.1,545.1 862.4,537.6 868.7,534.1 874.7,543.1 880.7,548.1 887.4,535.1 893.7,523.1 899.9,518.9 906.2,506.1 912.5,505.6 919.2,502.6 925.7,503.8 931.7,512.6 938.0,508.1 945.0,500.8 951.0,500.3 957.0,485.6 963.8,493.3 970.5,498.3 976.5,481.3 982.8,474.5 988.8,486.3 995.8,473.3 1002.1,473.8 1007.8,464.0 1014.3,475.0 1020.6,480.8 1027.4,475.8 1033.5,491.3 1039.8,485.1 1046.0,475.0 1052.5,474.5 1059.0,474.5 1065.6,470.8 1071.6,470.0 1078.6,475.8 1084.6,464.3 1090.6,455.8 1096.8,461.8 1103.9,486.3 1110.1,485.1 1116.4,485.1 1122.1,463.3 1128.4,459.5 1135.4,492.6 1141.9,478.3" fill="none" stroke="#7e57c2" stroke-width="1.4" stroke-linejoin="round" stroke-linecap="round" />
</g>
<line x1="13" y1="445.5" x2="1470" y2="445.5" stroke="#4f525e" stroke-width="1" />
<line x1="13" y1="596.5" x2="1470" y2="596.5" stroke="#4f525e" stroke-width="1" />
<line x1="1378.5" y1="0" x2="1378.5" y2="637" stroke="#4f525e" stroke-width="1" />
<rect x="11" y="0" width="2" height="639" fill="#eef0f6" />
<rect x="1470" y="0" width="2" height="639" fill="#eef0f6" />
<rect x="11" y="637" width="1461" height="2" fill="#eef0f6" />
<rect x="12" y="354" width="1" height="4" fill="#55585f" />
<text x="1393.4" y="38.9" font-size="17.4" fill="#4a4d59" text-anchor="start" font-weight="normal" textLength="56.4" lengthAdjust="spacingAndGlyphs"  stroke="#4a4d59" stroke-width="0.15">10500.0</text>
<text x="1392.6" y="130.1" font-size="17.4" fill="#4a4d59" text-anchor="start" font-weight="normal" textLength="49" lengthAdjust="spacingAndGlyphs"  stroke="#4a4d59" stroke-width="0.15">9500.0</text>
<text x="1392.6" y="268.0" font-size="17.4" fill="#4a4d59" text-anchor="start" font-weight="normal" textLength="49" lengthAdjust="spacingAndGlyphs"  stroke="#4a4d59" stroke-width="0.15">8000.0</text>
<text x="1392.6" y="314.0" font-size="17.4" fill="#4a4d59" text-anchor="start" font-weight="normal" textLength="49" lengthAdjust="spacingAndGlyphs"  stroke="#4a4d59" stroke-width="0.15">7500.0</text>
<text x="1392.6" y="360.0" font-size="17.4" fill="#4a4d59" text-anchor="start" font-weight="normal" textLength="49" lengthAdjust="spacingAndGlyphs"  stroke="#4a4d59" stroke-width="0.15">7000.0</text>
<text x="1392.6" y="406.0" font-size="17.4" fill="#4a4d59" text-anchor="start" font-weight="normal" textLength="49" lengthAdjust="spacingAndGlyphs"  stroke="#4a4d59" stroke-width="0.15">6500.0</text>
<text x="1392" y="505.0" font-size="17.4" fill="#4a4d59" text-anchor="start" font-weight="normal" textLength="41" lengthAdjust="spacingAndGlyphs"  stroke="#4a4d59" stroke-width="0.15">60.00</text>
<text x="1392" y="559.0" font-size="17.4" fill="#4a4d59" text-anchor="start" font-weight="normal" textLength="41" lengthAdjust="spacingAndGlyphs"  stroke="#4a4d59" stroke-width="0.15">40.00</text>
<rect x="1405.5" y="8.5" width="39" height="26" rx="4.5" fill="#fff" stroke="#dcdfe8" stroke-width="1"/>
<text x="1425.25" y="26.9" font-size="16.3" fill="#4a4d59" text-anchor="middle" font-weight="normal" textLength="28.1" lengthAdjust="spacingAndGlyphs"  stroke="#4a4d59" stroke-width="0.2">USD</text>
<rect x="1307" y="129" width="153" height="41" fill="#fff" />
<text x="1313.6" y="146.8" font-size="16.5" fill="#111" text-anchor="start" font-weight="normal" textLength="56" lengthAdjust="spacingAndGlyphs"  stroke="#111" stroke-width="0.2">WTIUSD</text>
<text x="1393.4" y="146.9" font-size="17.4" fill="#111" text-anchor="start" font-weight="normal" textLength="48.7" lengthAdjust="spacingAndGlyphs"  stroke="#111" stroke-width="0.2">9333.6</text>
<text x="1393.4" y="165.9" font-size="17.4" fill="#444" text-anchor="start" font-weight="normal" textLength="63.7" lengthAdjust="spacingAndGlyphs"  stroke="#444" stroke-width="0.15">07:31:20</text>
<path d="M1378.0,68 h78.5 a2.5,2.5 0 0 1 2.5,2.5 v18 a2.5,2.5 0 0 1 -2.5,2.5 h-78.5 z" fill="#4caf50"/>
<text x="1394.3" y="86.0" font-size="17.4" fill="#fff" text-anchor="start" font-weight="bold" textLength="56.6" lengthAdjust="spacingAndGlyphs" >10001.5</text>
<path d="M1378.0,105 h69.5 a2.5,2.5 0 0 1 2.5,2.5 v18 a2.5,2.5 0 0 1 -2.5,2.5 h-69.5 z" fill="#4caf50"/>
<text x="1393" y="123.0" font-size="17.4" fill="#fff" text-anchor="start" font-weight="bold" textLength="49.5" lengthAdjust="spacingAndGlyphs" >9478.7</text>
<path d="M1378.0,171 h69.5 a2.5,2.5 0 0 1 2.5,2.5 v18 a2.5,2.5 0 0 1 -2.5,2.5 h-69.5 z" fill="#2962ff"/>
<text x="1393" y="189.0" font-size="17.4" fill="#fff" text-anchor="start" font-weight="bold" textLength="49.5" lengthAdjust="spacingAndGlyphs" >8923.2</text>
<path d="M1378.0,204 h69.5 a2.5,2.5 0 0 1 2.5,2.5 v18 a2.5,2.5 0 0 1 -2.5,2.5 h-69.5 z" fill="#2962ff"/>
<text x="1393" y="222.0" font-size="17.4" fill="#fff" text-anchor="start" font-weight="bold" textLength="49.5" lengthAdjust="spacingAndGlyphs" >8514.7</text>
<text x="105.9" y="622" font-size="16.5" fill="#50535e" text-anchor="middle" font-weight="normal" textLength="21" lengthAdjust="spacingAndGlyphs"  stroke="#50535e" stroke-width="0.3">Jul</text>
<text x="245.8" y="622" font-size="16.5" fill="#50535e" text-anchor="middle" font-weight="normal" textLength="27.6" lengthAdjust="spacingAndGlyphs"  stroke="#50535e" stroke-width="0.3">Aug</text>
<text x="385.4" y="622" font-size="16.5" fill="#50535e" text-anchor="middle" font-weight="normal" textLength="26.2" lengthAdjust="spacingAndGlyphs"  stroke="#50535e" stroke-width="0.3">Sep</text>
<text x="524.9" y="622" font-size="16.5" fill="#50535e" text-anchor="middle" font-weight="normal" textLength="25.3" lengthAdjust="spacingAndGlyphs"  stroke="#50535e" stroke-width="0.3">Oct</text>
<text x="658.8" y="622" font-size="16.5" fill="#50535e" text-anchor="middle" font-weight="normal" textLength="27.9" lengthAdjust="spacingAndGlyphs"  stroke="#50535e" stroke-width="0.3">Nov</text>
<text x="798.7" y="622" font-size="16.5" fill="#50535e" text-anchor="middle" font-weight="normal" textLength="27" lengthAdjust="spacingAndGlyphs"  stroke="#50535e" stroke-width="0.3">Dec</text>
<text x="938.7" y="622" font-size="16.5" fill="#50535e" text-anchor="middle" font-weight="bold" textLength="37.7" lengthAdjust="spacingAndGlyphs" >2022</text>
<text x="1072.1" y="622" font-size="16.5" fill="#50535e" text-anchor="middle" font-weight="normal" textLength="26.6" lengthAdjust="spacingAndGlyphs"  stroke="#50535e" stroke-width="0.3">Feb</text>
<text x="1224.3" y="622" font-size="16.5" fill="#50535e" text-anchor="middle" font-weight="normal" textLength="26.9" lengthAdjust="spacingAndGlyphs"  stroke="#50535e" stroke-width="0.3">Mar</text>
<text x="24.9" y="27.6" font-size="17" fill="#4f525e" text-anchor="start" font-weight="normal" textLength="172.5" lengthAdjust="spacingAndGlyphs"  stroke="#4f525e" stroke-width="0.3">Us Crude Oil CFD, 1D,</text>
<text x="205.5" y="27.6" font-size="17" fill="#4f525e" text-anchor="start" font-weight="normal"  stroke="#4f525e" stroke-width="0.3">.</text>
<text x="303.5" y="27.8" font-size="17" textLength="64" lengthAdjust="spacingAndGlyphs"><tspan fill="#4c4f5a" stroke="#4c4f5a" stroke-width="0.3">O</tspan><tspan fill="#131722" stroke="#131722" stroke-width="0.3">9098.1</tspan></text>
<text x="380.4" y="27.8" font-size="17" textLength="64.4" lengthAdjust="spacingAndGlyphs"><tspan fill="#4c4f5a" stroke="#4c4f5a" stroke-width="0.3">H</tspan><tspan fill="#131722" stroke="#131722" stroke-width="0.3">9350.6</tspan></text>
<text x="457.3" y="27.8" font-size="17" textLength="61" lengthAdjust="spacingAndGlyphs"><tspan fill="#4c4f5a" stroke="#4c4f5a" stroke-width="0.3">L</tspan><tspan fill="#131722" stroke="#131722" stroke-width="0.3">9013.1</tspan></text>
<text x="530.5" y="27.8" font-size="17" textLength="64" lengthAdjust="spacingAndGlyphs"><tspan fill="#4c4f5a" stroke="#4c4f5a" stroke-width="0.3">C</tspan><tspan fill="#131722" stroke="#131722" stroke-width="0.3">9333.6</tspan></text>
<text x="606" y="27.8" font-size="17" fill="#131722" text-anchor="start" font-weight="normal" textLength="53" lengthAdjust="spacingAndGlyphs"  stroke="#131722" stroke-width="0.3">+252.7</text>
<text x="666" y="27.8" font-size="17" fill="#131722" text-anchor="start" font-weight="normal" textLength="67" lengthAdjust="spacingAndGlyphs"  stroke="#131722" stroke-width="0.3">(+2.78%)</text>
<text x="24.1" y="53.7" font-size="17" fill="#4f525e" text-anchor="start" font-weight="normal" textLength="144" lengthAdjust="spacingAndGlyphs"  stroke="#4f525e" stroke-width="0.3">MA (100, close, 0)</text>
<text x="180.6" y="53.7" font-size="17" fill="#7b7e89" text-anchor="start" font-weight="normal" textLength="52" lengthAdjust="spacingAndGlyphs"  stroke="#7b7e89" stroke-width="0.3">7967.5</text>
<text x="24.1" y="78.8" font-size="17" fill="#4f525e" text-anchor="start" font-weight="normal" textLength="134.3" lengthAdjust="spacingAndGlyphs"  stroke="#4f525e" stroke-width="0.3">MA (50, close, 0)</text>
<text x="170.7" y="78.8" font-size="17" fill="#2bbbd8" text-anchor="start" font-weight="normal" textLength="52" lengthAdjust="spacingAndGlyphs"  stroke="#2bbbd8" stroke-width="0.3">8118.6</text>
<text x="24.5" y="474.8" font-size="17" fill="#4f525e" text-anchor="start" font-weight="normal" textLength="213" lengthAdjust="spacingAndGlyphs"  stroke="#4f525e" stroke-width="0.3">RSI (14, close, SMA, 14, 2)</text>
<text x="247.3" y="474.8" font-size="17" fill="#7e57c2" text-anchor="start" font-weight="normal" textLength="42" lengthAdjust="spacingAndGlyphs"  stroke="#7e57c2" stroke-width="0.5">67.33</text>
<text x="301.9" y="474.8" font-size="17" fill="#ffe838" text-anchor="start" font-weight="normal" textLength="43.5" lengthAdjust="spacingAndGlyphs"  stroke="#ffe838" stroke-width="0.5">69.39</text>
<text x="357.4" y="474.8" font-size="17" fill="#4f525e" text-anchor="start" font-weight="normal" textLength="27.5" lengthAdjust="spacingAndGlyphs"  stroke="#4f525e" stroke-width="0.3">n/a</text>
<text x="396.5" y="474.8" font-size="17" fill="#4f525e" text-anchor="start" font-weight="normal" textLength="27.5" lengthAdjust="spacingAndGlyphs"  stroke="#4f525e" stroke-width="0.3">n/a</text>
<g fill="#0c3a50">
<path d="M27.1,96.7 H67.9 V109.5 H41.9 V118 H66.1 V129.1 H41.9 V147.9 H27.1 Z"/>
<path fill-rule="evenodd" d="M136.1,96.7 H161 C174,96.7 181.9,103.5 181.9,114 C181.9,122.5 177,127.5 170.5,130.2 L183.2,147.9 H166.3 L155.6,131.4 H150.3 V147.9 H136.1 Z M150.3,109.2 V121.6 H160 C165,121.6 168.4,119.5 168.4,115.4 C168.4,111.3 165,109.2 160,109.2 Z"/>
<path d="M189.2,96.7 H229.6 V109.2 H203.4 V116.2 H227.2 V128.1 H203.4 V135.5 H229.9 V147.9 H189.2 Z"/>
<path d="M236.1,96.7 H253.2 L261.2,110.5 L269.3,96.7 H286.1 L269.6,121.6 L286.1,147.9 H270 L260.8,133 L252.5,147.9 H235 L252.4,121.8 Z"/>
</g>
<path fill="#2db35e" fill-rule="evenodd" d="M97.8,95.7 C112,95.7 123.4,107.5 123.4,122.1 C123.4,136.7 112,148.5 97.8,148.5 C83.6,148.5 72.2,136.7 72.2,122.1 C72.2,107.5 83.6,95.7 97.8,95.7 Z M99.6,102.8 C93,102.8 87,111 87,122.3 C87,134 92,141.3 97.4,141.3 C104,141.3 110,133 110,121.7 C110,110 105.5,102.8 99.6,102.8 Z"/>
<path fill="#2db35e" d="M101.2,116.2 H131.8 L129.8,121.1 H99.6 Z M99.5,124 H129.2 L127.6,128.7 H99.1 Z"/>
<circle cx="293.7" cy="129.9" r="3.6" fill="#0c3a50"/>
<g fill="none" stroke="#0c3a50" stroke-width="5.8">
<path d="M315.9,120.2 A7.1,7.1 0 1 0 315.9,127.8"/>
<circle cx="331.2" cy="124" r="7.3"/>
</g>
<g fill="none" stroke="#0c3a50" stroke-width="6.8">
<path d="M348.1,133.7 V114.1"/>
<path d="M348.1,124 C348.1,118.5 350.5,117.5 353.8,117.5 C357.3,117.5 359.6,118.8 359.6,124 V133.7"/>
<path d="M359.6,124 C359.6,118.5 362.3,117.5 365.8,117.5 C369.6,117.5 372.5,118.8 372.5,124 V133.7"/>
</g>
<path fill="#1c2030" d="M12.1,656.1 H24 V671 H17.9 V662 H12.1 Z"/>
<circle cx="28.5" cy="659.4" r="2.8" fill="#1c2030"/>
<path fill="#1c2030" d="M32.7,656.1 H41 L36.3,671 H28.9 Z"/>
<text x="46.8" y="671.8" font-size="19" fill="#1c2030" text-anchor="start" font-weight="normal" textLength="105.3" lengthAdjust="spacingAndGlyphs" >TradingView</text>
</svg>
</body></html>
